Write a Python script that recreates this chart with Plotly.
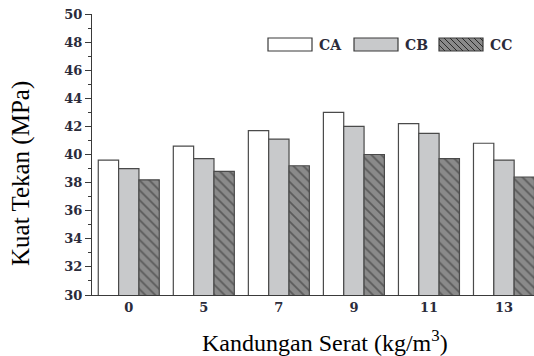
import plotly.graph_objects as go

categories = ["0", "5", "7", "9", "11", "13"]
ca = [39.6, 40.6, 41.7, 43.0, 42.2, 40.8]
cb = [39.0, 39.7, 41.1, 42.0, 41.5, 39.6]
cc = [38.2, 38.8, 39.2, 40.0, 39.7, 38.4]
series_names = ["CA", "CB", "CC"]
y_ticks = list(range(30, 51, 2))
x_title = "Kandungan Serat (kg/m<sup>3</sup>)"
y_title = "Kuat Tekan (MPa)"

W, H = 534, 356
L, R, T, B = 92, 534, 14, 295  # plot area in pixels

SERIF = "Liberation Serif, Times New Roman, Tinos, DejaVu Serif, serif"
TICKF = "DejaVu Serif, Liberation Serif, serif"
TXT = "#2b2b3a"
edge = dict(color="#4a4a4a", width=1.2)

fig = go.Figure()
fig.add_trace(go.Bar(x=categories, y=ca, name=series_names[0],
                     marker=dict(color="white", line=edge)))
fig.add_trace(go.Bar(x=categories, y=cb, name=series_names[1],
                     marker=dict(color="#c8c9cb", line=edge)))
fig.add_trace(go.Bar(x=categories, y=cc, name=series_names[2],
                     marker=dict(color="#8a8a8a", line=edge,
                                 pattern=dict(shape="\\", fgcolor="#2a2a2a",
                                              size=7, solidity=0.25))))

def px(x):
    return (x - L) / (R - L)

def py(y):
    return (B - y) / (B - T)

shapes = []
annotations = []
legend_boxes = [(268, "white"), (354, "#c8c9cb"), (439, "#8a8a8a")]
bw, y0b, y1b = 44, 38, 51
for i, (x0, col) in enumerate(legend_boxes):
    shapes.append(dict(type="rect", xref="paper", yref="paper",
                       x0=px(x0), x1=px(x0 + bw), y0=py(y1b), y1=py(y0b),
                       fillcolor=col, line=dict(color="#3a3a3a", width=1.2),
                       layer="above"))
    if i == 2:
        h = y1b - y0b
        k = -h
        while k < bw:
            xa, ya = x0 + k, y0b
            xb, yb = x0 + k + h, y1b
            if xa < x0:
                ya = y0b + (x0 - xa)
                xa = x0
            if xb > x0 + bw:
                yb = y1b - (xb - (x0 + bw))
                xb = x0 + bw
            if xb > xa:
                shapes.append(dict(type="line", xref="paper", yref="paper",
                                   x0=px(xa), y0=py(ya), x1=px(xb), y1=py(yb),
                                   line=dict(color="#2a2a2a", width=1),
                                   layer="above"))
            k += 6
    annotations.append(dict(xref="paper", yref="paper", x=px(x0 + bw + 5),
                            y=py((y0b + y1b) / 2), xanchor="left",
                            yanchor="middle", showarrow=False,
                            text=series_names[i],
                            font=dict(family=TICKF, size=14, color=TXT, weight="bold")))

# axis titles as annotations for exact placement
annotations.append(dict(xref="paper", yref="paper", x=px(325), y=py(341),
                        xanchor="center", yanchor="middle", showarrow=False,
                        text=x_title,
                        font=dict(family=SERIF, size=24, color="black")))
annotations.append(dict(xref="paper", yref="paper", x=px(21), y=py(174),
                        xanchor="center", yanchor="middle", showarrow=False,
                        textangle=-90, text=y_title,
                        font=dict(family=SERIF, size=25, color="black")))

fig.update_layout(
    width=W, height=H,
    margin=dict(l=L, r=W - R, t=T, b=H - B, pad=0),
    paper_bgcolor="white", plot_bgcolor="white",
    barmode="group", bargap=0.187, bargroupgap=0,
    showlegend=False,
    shapes=shapes, annotations=annotations,
    font=dict(family=SERIF, color=TXT),
)
fig.update_xaxes(
    range=[-0.49, 5.40], showgrid=False, zeroline=False,
    showline=True, linecolor="#3a3a3a", linewidth=1.2,
    ticks="", tickfont=dict(family=TICKF, size=13, color=TXT, weight="bold"),
)
fig.update_yaxes(
    range=[30, 50], tickvals=y_ticks, showgrid=False, zeroline=False,
    showline=True, linecolor="#3a3a3a", linewidth=1.2,
    ticks="outside", ticklen=6, tickwidth=1.2, tickcolor="#3a3a3a",
    minor=dict(dtick=1, ticks="outside", ticklen=3, tickcolor="#3a3a3a", tickwidth=1),
    tickfont=dict(family=TICKF, size=13, color=TXT, weight="bold"),
)

fig.write_html("out.html", config={"displayModeBar": False},
               post_script="document.body.style.margin='0';document.body.style.padding='0';")
